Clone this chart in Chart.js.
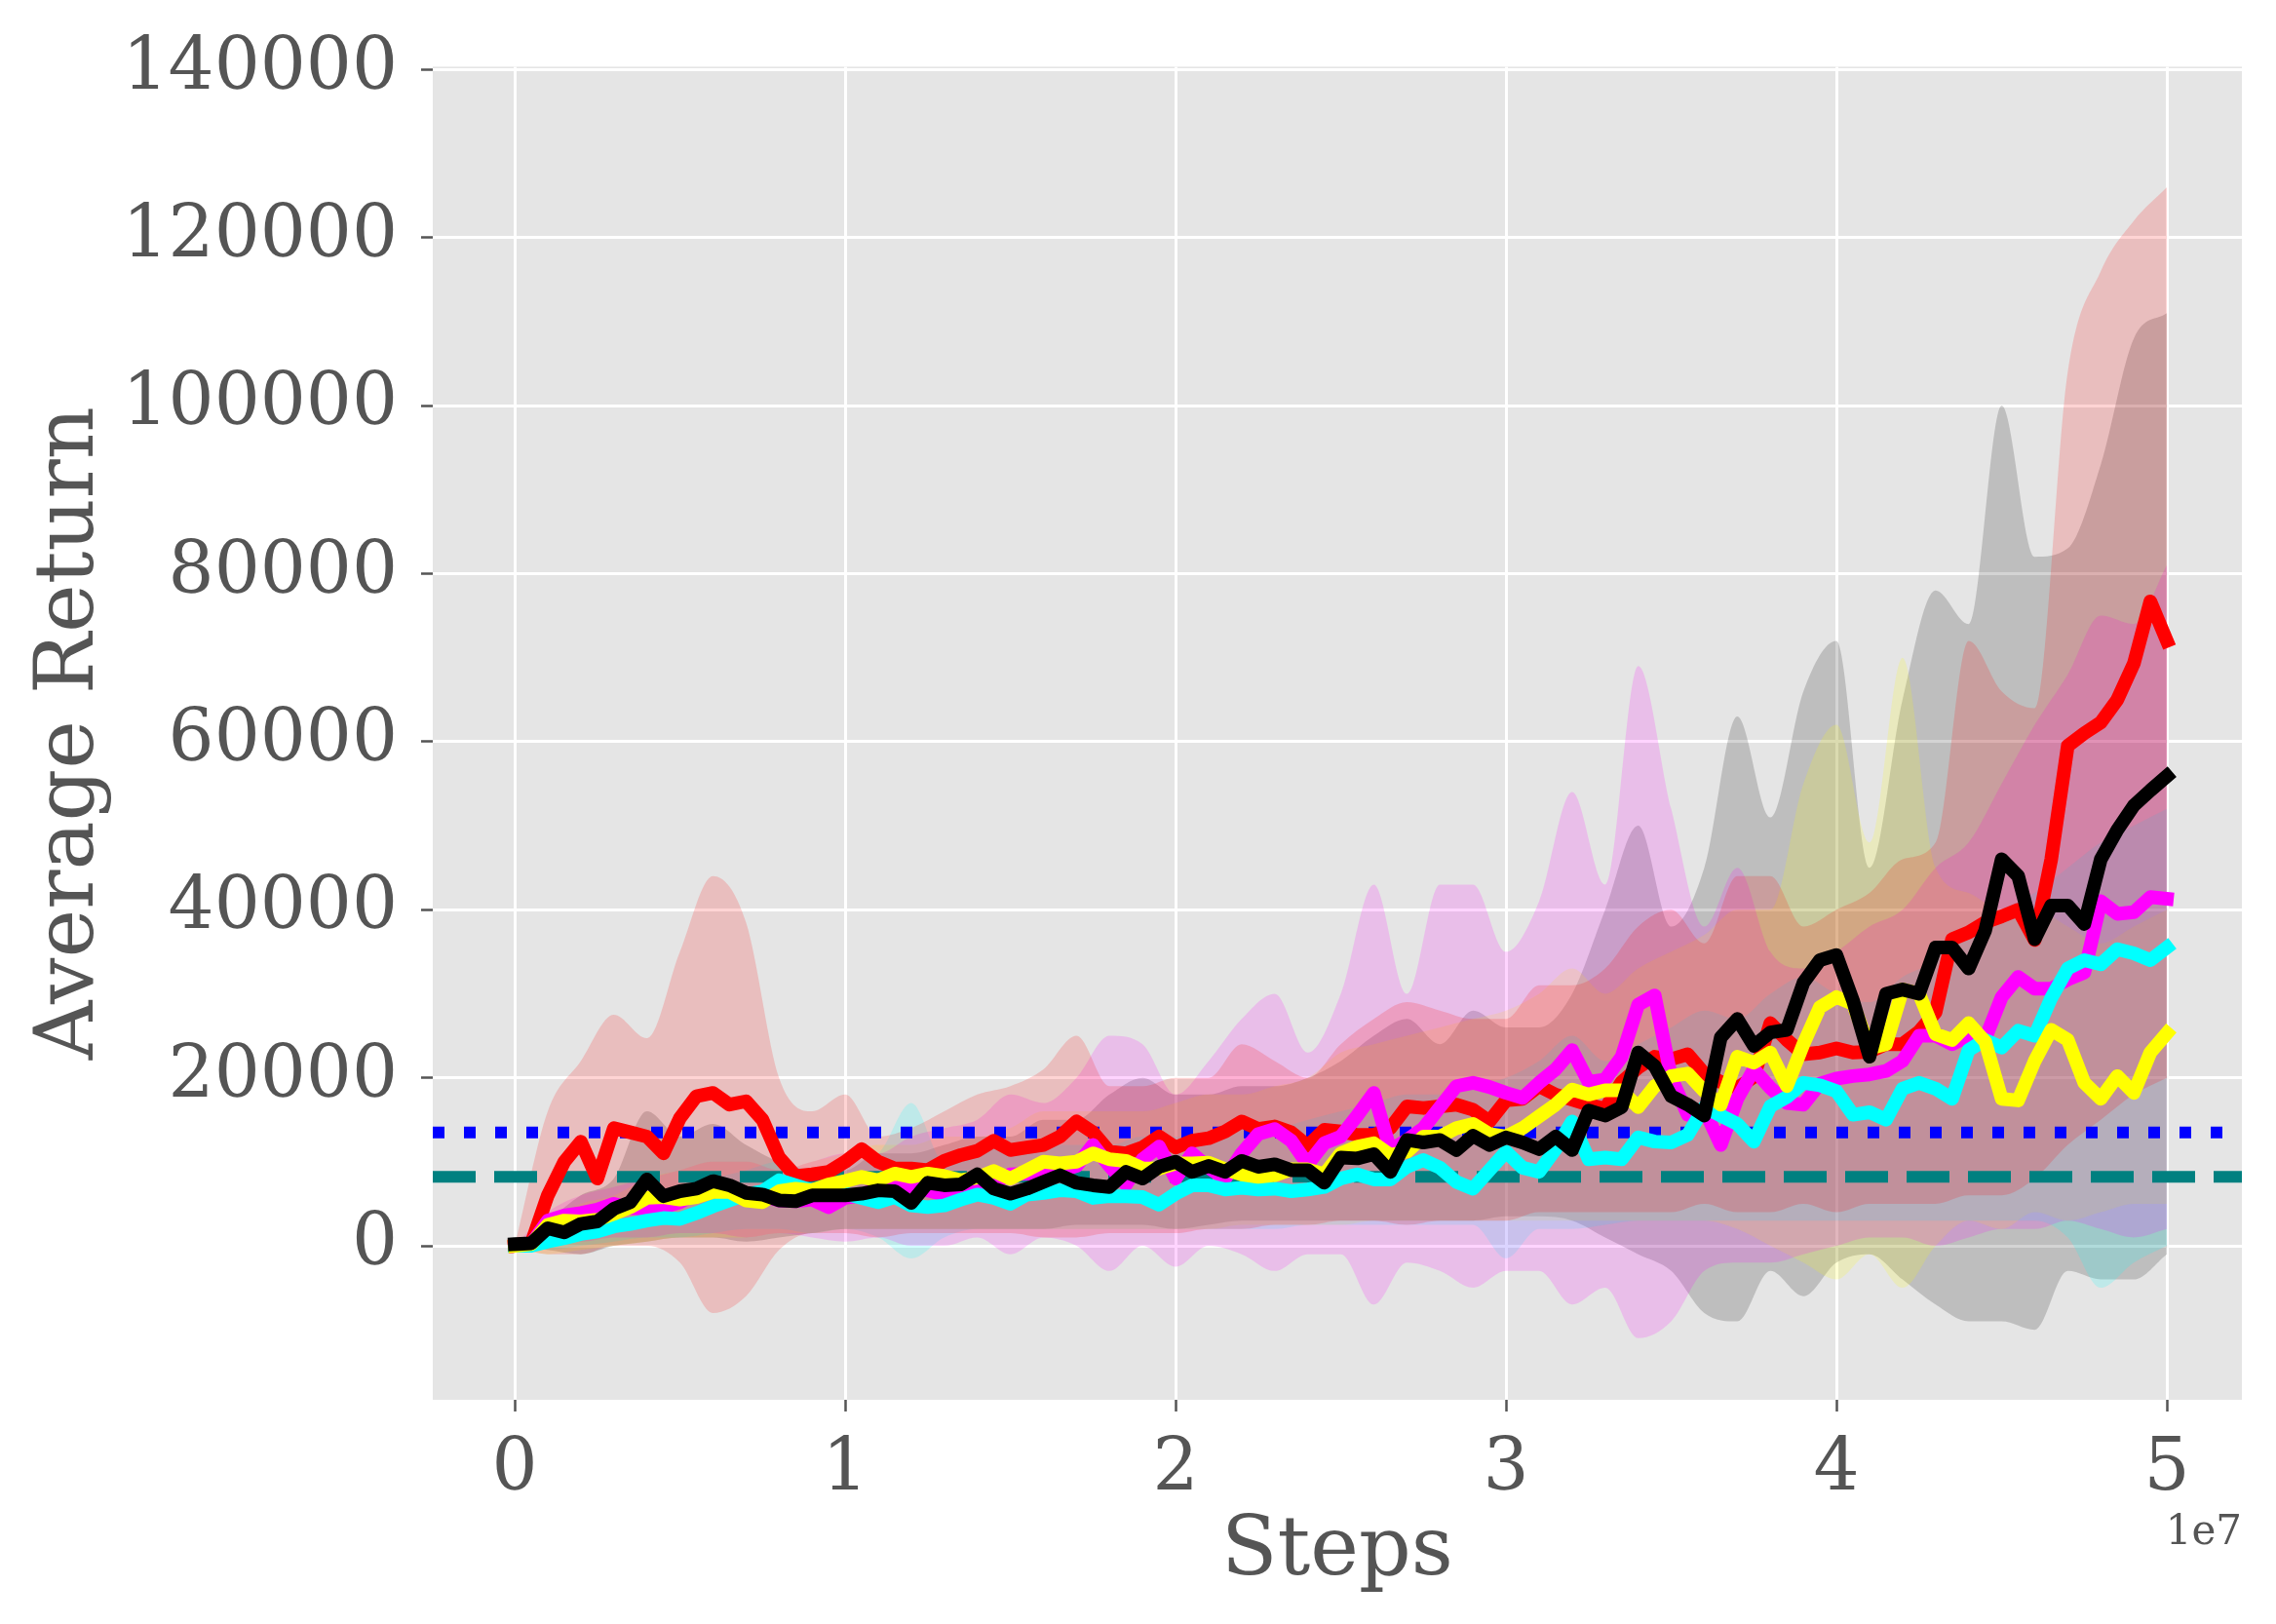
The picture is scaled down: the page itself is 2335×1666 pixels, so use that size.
<!DOCTYPE html>
<html lang="en">
<head>
<meta charset="UTF-8">
<title>Average Return vs Steps</title>
<script src="https://cdn.jsdelivr.net/npm/chart.js"></script>
<style>
  html, body { margin: 0; padding: 0; background: #ffffff; }
  #chart { display: block; }
</style>
</head>
<body>
<canvas id="chart" width="2335" height="1666"></canvas>
<script>
// steps are in millions, returns in thousands
const lineSteps = Array.from({ length: 101 }, (_, i) => i * 0.5);
const bandSteps = Array.from({ length: 51 }, (_, i) => i);

const xTickValues = [0, 1e7, 2e7, 3e7, 4e7, 5e7];
const yTickValues = [0, 20000, 40000, 60000, 80000, 100000, 120000, 140000];

const dottedLevel = 13.48;   // blue dotted reference
const dashedLevel = 8.2;     // teal dashed reference

const redMean = [0, 0.3, 6, 10, 12.4, 8, 14, 13.5, 13, 11,
  15.2, 17.8, 18.2, 16.8, 17.2, 15, 10.5, 8.3, 8.5, 8.8,
  10, 11.5, 10, 9.2, 9.2, 9, 10.1, 10.8, 11.3, 12.5,
  11.4, 11.7, 12, 13, 14.8, 13.5, 11.2, 11, 11.7, 13,
  11.7, 12.5, 12.8, 13.6, 14.8, 13.9, 14.2, 13.5, 11.9, 13.8,
  13.6, 13.2, 13.2, 14, 16.6, 16.4, 16.6, 16.8, 16.2, 14.8,
  17.3, 17.5, 19, 18, 17.4, 16.8, 16.3, 19.5, 21.2, 22.5,
  22.2, 22.8, 20.5, 19.5, 18.8, 20.1, 26.5, 24.5, 22.8, 23,
  23.5, 23, 23.1, 24, 24, 25.5, 27.8, 36.5, 37.3, 38.5,
  39.2, 40, 36.4, 46, 59.5, 61, 62.3, 65, 69.3, 76.7, 72];

const magentaMean = [0, 0.2, 3, 3.6, 3.9, 4.3, 5, 4.5, 4.4, 4.6,
  5.2, 6.2, 6.4, 5.8, 6, 6, 5.4, 5.3, 5.5, 4.6,
  5.7, 6, 7, 7.4, 7, 6.6, 6.1, 6.5, 7.3, 7.5,
  8.5, 8.6, 8.4, 8.9, 9.5, 12, 9.5, 7.3, 10.3, 11.8,
  8, 11, 9.3, 8, 11, 13.3, 13.9, 12.5, 9.7, 12.2,
  13, 15.5, 18.2, 11.4, 12.6, 14, 16.5, 19, 19.4, 18.9,
  18.2, 17.6, 19.4, 21, 23.3, 19.5, 19.8, 22.5, 28.7, 29.8,
  20, 15.6, 16.2, 12, 17.5, 21, 18.8, 17, 16.8, 19.3,
  19.9, 20.2, 20.4, 20.8, 22, 25, 25, 24, 25, 24.6,
  29.6, 32, 30.6, 30.6, 31.7, 32.5, 41, 39.5, 39.7, 41.5, 41.3];

const cyanMean = [0, 0, 0.5, 0.9, 1.4, 1.7, 2.3, 2.6, 3, 3.3,
  3.2, 3.9, 4.7, 5.4, 6.1, 6.5, 7.8, 7.2, 6.6, 6.3,
  6.2, 5.7, 5.2, 5.8, 4.8, 4.6, 4.8, 5.5, 6.1, 5.7,
  5, 6.1, 6.3, 6.6, 6.5, 5.7, 5.9, 5.9, 5.8, 4.9,
  6.2, 7.2, 7.2, 6.7, 6.9, 6.7, 6.8, 6.5, 6.7, 7,
  8, 8.5, 7.9, 7.9, 9.4, 10.2, 9.3, 7.6, 6.8, 9,
  11.2, 9.3, 8.8, 11.5, 14.8, 10.3, 10.5, 10.3, 12.9, 12.4,
  12.3, 13.2, 16.5, 15.5, 14.5, 12.4, 16.6, 17.7, 19.4, 19.1,
  18.4, 15.6, 15.9, 15, 18.7, 19.4, 18.7, 17.5, 23.3, 24.5,
  23.6, 25.6, 25, 29.5, 33, 34, 33.5, 35.3, 34.8, 34, 35.5];

const yellowMean = [0, 0.2, 2.5, 3, 2.9, 3.1, 3.8, 4.6, 5.7, 5.8,
  5.5, 5.8, 6.4, 6.4, 5.4, 5.2, 6.5, 6.8, 6.6, 7.3,
  7.7, 8.2, 7.8, 8.6, 8.2, 8.6, 8.3, 7.8, 8.1, 8.9,
  8, 9, 10, 9.8, 10, 11, 10.3, 10.1, 9.2, 9.2,
  9.8, 9.8, 9.9, 9.1, 8.5, 8.2, 8.4, 9.1, 9.1, 8.5,
  11, 11.8, 12.2, 10.8, 11.2, 13, 13, 14, 14.5, 13.3,
  13, 14, 15.4, 16.8, 18.6, 18, 18.5, 18.5, 16.5, 19,
  20.2, 20.5, 18.4, 16.8, 22.5, 21.8, 23, 19, 24, 28.4,
  29.6, 28.8, 23.5, 24, 30.5, 30, 25.2, 24.5, 26.5, 24.3,
  17.5, 17.3, 22, 25.7, 24.5, 19.4, 17.5, 20.2, 18.2, 23, 25.3];

const blackMean = [0.2, 0.3, 2.1, 1.6, 2.6, 2.9, 4.4, 5.2, 7.9, 5.9,
  6.5, 6.8, 7.7, 7.2, 6.3, 6.1, 5.4, 5.3, 6, 6,
  6, 6.2, 6.6, 6.5, 5.1, 7.5, 7.2, 7.3, 8.5, 6.8,
  6.2, 6.8, 7.6, 8.4, 7.5, 7.2, 7, 8.8, 8, 9.4,
  10, 8.8, 9.5, 8.8, 10.1, 9.4, 9.7, 9, 9, 7.5,
  10.5, 10.4, 10.9, 8.8, 12.6, 12.3, 12.6, 11.4, 13.1, 12,
  12.9, 12.3, 11.5, 13, 11.4, 16.1, 15.5, 16.5, 23, 21.4,
  17.8, 16.8, 15.5, 24.8, 27, 23.8, 25.4, 25.7, 31.3, 34,
  34.6, 29.2, 22.5, 30, 30.5, 30, 35.5, 35.5, 33, 37.5,
  46, 44, 36.5, 40.5, 40.5, 38.3, 46, 49.5, 52.4, 54.2, 55.9];

const redUpper = [0, 16, 22, 27.5, 24.7, 35, 44, 38.5, 20, 16,
  18, 13, 14, 16, 18, 19, 21, 25, 19, 19,
  20, 20, 24, 22, 20, 24, 27, 29, 28, 27,
  27, 31, 31, 33, 38, 40, 36, 44, 44, 38,
  40, 42, 46, 48, 72, 66, 64, 104, 116, 122, 126];
const redLower = [0, -1, -1, 0, 0, -2, -8, -6, -0.5, 1.5,
  1.5, 1, 1.5, 1.5, 1.5, 1.5, 1, 1, 1.5, 1.5,
  1.5, 2, 2, 2.5, 2.5, 3, 3, 2.5, 3, 3,
  3, 4, 4, 4, 4, 4, 5, 4, 4, 5,
  4, 5, 5, 5, 6, 6, 8, 12, 15, 18, 20];

const grayUpper = [0, 3, 6, 8, 16, 13, 14.5, 12, 10, 9,
  9, 11, 11, 12, 13, 13, 15, 15, 18, 20,
  18, 18, 19, 19, 20, 22, 25, 27, 24, 28,
  26, 26, 30, 40, 50, 38, 45, 63, 51, 66,
  72, 45, 65, 78, 74, 100, 82, 83, 93, 108, 111];
const grayLower = [0, -0.5, -1, 0, 0.5, 1, 1, 0.5, 1, 1.5,
  2, 2, 2, 2, 2, 2, 2, 2.5, 2.5, 2.5,
  2, 2.5, 3, 3, 3, 3, 3, 3, 3, 3,
  3.5, 3.5, 3, 1, -1, -3, -8, -9, -3, -6,
  -2, -1, -4, -7, -9, -9, -10, -3, -4, -4, -1];

const magentaUpper = [0, 4, 6, 7, 8, 9, 10, 10, 9, 10,
  11, 11, 13, 14, 15, 18, 17, 20, 25, 24,
  18, 22, 27, 30, 23, 30, 43, 30, 43, 43,
  35, 41, 54, 43, 69, 52, 38, 45, 35, 33,
  35, 38, 40, 45, 48, 55, 62, 68, 75, 74, 81];
const magentaLower = [0, 0.5, 0.5, 1, 1, 1.5, 1.5, 1, 1.5, 1,
  0.5, 1, 0, 0, 1, -1, 1, 0, -3, 0,
  -2.5, 0, -1, -3, -1, -1, -7, -2, -3, -5,
  -3, -3, -7, -5, -11, -9, -3, -2, -2, -1,
  0, 1, 1, 0, 1, 2, 2, 3, 2, 1, 2];

const cyanUpper = [0, 2, 4, 5, 6, 7, 8, 9, 10, 9,
  10, 11, 17, 10, 11, 12, 12, 12, 12, 13,
  13, 13, 14, 14, 15, 16, 17, 18, 18, 19,
  20, 22, 25, 22, 24, 26, 28, 27, 30, 32,
  30, 29, 32, 34, 38, 40, 42, 45, 48, 50, 52];
const cyanLower = [0, -0.5, 0, 0.5, 1, 1, 1.5, 2, 2, 1.5,
  2, 1, -1.5, 1, 2, 2, 2, 2, 2, 2,
  2, 2, 2, 2, 2.5, 2.5, 2.5, 2.5, 2.5, 2.5,
  -1.5, 2, 2, 2.5, 3, 3, 3, 3, 3, 3,
  3, 3, 3, 3, 3, 3, 3, 1, -5, -2, 0];

const yellowUpper = [0, 3, 5, 6, 8, 9, 10, 10, 9, 10,
  11, 12, 12, 13, 13, 14, 16, 16, 16, 16,
  17, 18, 18, 19, 20, 23, 24, 25, 26, 27,
  28, 30, 33, 30, 33, 35, 37, 40, 40, 55,
  62, 48, 70, 45, 42, 40, 40, 38, 36, 38, 40];
const yellowLower = [0, -1, -0.5, 0, 0.5, 1, 1, 1, 1.5, 1.5,
  2, 2, 2, 2, 2, 2, 2, 2, 2, 2,
  2, 2, 2.5, 2.5, 2.5, 2.5, 3, 3, 3, 3,
  3, 3, 3, 3, 3, 3, 3, 2, 0, -2,
  -4, -1, -5, 0, 3, 2, 4, 3, 4, 5, 5];

const X_MIN = -0.248e7, X_MAX = 5.227e7;
const Y_MIN = -18330, Y_MAX = 140340;
const FONT = '"DejaVu Serif", "Liberation Serif", serif';
const TEXT = '#555555';

function pts(steps, vals) {
  return vals.map((v, i) => ({ x: steps[i] * 1e6, y: v * 1000 }));
}

const series = [
  { label: 'red', color: '#ff0000', fill: 'rgba(255,0,0,0.17)', mean: redMean, upper: redUpper, lower: redLower, order: 5 },
  { label: 'magenta', color: '#ff00ff', fill: 'rgba(255,0,255,0.17)', mean: magentaMean, upper: magentaUpper, lower: magentaLower, order: 4 },
  { label: 'cyan', color: '#00ffff', fill: 'rgba(0,255,255,0.17)', mean: cyanMean, upper: cyanUpper, lower: cyanLower, order: 3 },
  { label: 'yellow', color: '#ffff00', fill: 'rgba(255,255,0,0.17)', mean: yellowMean, upper: yellowUpper, lower: yellowLower, order: 2 },
  { label: 'black', color: '#000000', fill: 'rgba(0,0,0,0.17)', mean: blackMean, upper: grayUpper, lower: grayLower, order: 1 }
];

const datasets = [];
// shaded bands first (smoothed edges)
series.forEach((s, k) => {
  datasets.push({
    label: s.label + ' upper', data: pts(bandSteps, s.upper),
    borderWidth: 0, borderColor: 'transparent', pointRadius: 0,
    cubicInterpolationMode: 'monotone',
    backgroundColor: s.fill, fill: '+1', order: 100 + k
  });
  datasets.push({
    label: s.label + ' lower', data: pts(bandSteps, s.lower),
    borderWidth: 0, borderColor: 'transparent', pointRadius: 0,
    cubicInterpolationMode: 'monotone',
    fill: false, order: 100 + k
  });
});
// reference lines
datasets.push({
  label: 'dotted', data: [{ x: X_MIN, y: dottedLevel * 1000 }, { x: X_MAX, y: dottedLevel * 1000 }],
  borderColor: '#0000ff', borderWidth: 12, borderDash: [12, 20], borderCapStyle: 'butt',
  pointRadius: 0, fill: false, order: 50
});
datasets.push({
  label: 'dashed', data: [{ x: X_MIN, y: dashedLevel * 1000 }, { x: X_MAX, y: dashedLevel * 1000 }],
  borderColor: '#008080', borderWidth: 12, borderDash: [44, 19], borderCapStyle: 'butt',
  pointRadius: 0, fill: false, order: 50
});
// mean curves
series.forEach(s => {
  datasets.push({
    label: s.label, data: pts(lineSteps, s.mean),
    borderColor: s.color, borderWidth: 14, borderJoinStyle: 'round', borderCapStyle: 'square',
    pointRadius: 0, fill: false, tension: 0, order: s.order
  });
});

const plotBackground = {
  id: 'plotBackground',
  beforeDraw(chart) {
    const { ctx, chartArea: a } = chart;
    ctx.save();
    ctx.fillStyle = '#E5E5E5';
    ctx.fillRect(a.left, a.top, a.right - a.left, a.bottom - a.top);
    ctx.restore();
  }
};

const offsetLabel = {
  id: 'offsetLabel',
  afterDraw(chart) {
    const { ctx, chartArea: a } = chart;
    ctx.save();
    ctx.font = '42px ' + FONT;
    ctx.fillStyle = TEXT;
    ctx.textAlign = 'right';
    ctx.textBaseline = 'alphabetic';
    ctx.fillText('1e7', a.right, 1584);
    ctx.restore();
  }
};

new Chart(document.getElementById('chart').getContext('2d'), {
  type: 'line',
  data: { datasets },
  plugins: [plotBackground, offsetLabel],
  options: {
    responsive: false,
    animation: false,
    devicePixelRatio: 1,
    layout: { padding: { left: 0, top: 45, right: 35, bottom: 0 } },
    plugins: { legend: { display: false }, tooltip: { enabled: false } },
    scales: {
      x: {
        type: 'linear', min: X_MIN, max: X_MAX,
        afterFit(scale) { scale.height = 230; },
        afterBuildTicks(scale) { scale.ticks = xTickValues.map(v => ({ value: v })); },
        ticks: {
          font: { family: FONT, size: 74 }, color: TEXT, padding: 16,
          maxRotation: 0, autoSkip: false,
          callback: v => String(v / 1e7)
        },
        grid: { color: '#ffffff', lineWidth: 3, tickColor: TEXT, tickLength: 12, tickWidth: 2.5 },
        border: { display: false },
        title: {
          display: true, text: 'Steps', color: TEXT,
          font: { family: FONT, size: 84 }, padding: { top: 0, bottom: 22 }
        }
      },
      y: {
        type: 'linear', min: Y_MIN, max: Y_MAX,
        afterFit(scale) { scale.width = 444; },
        afterBuildTicks(scale) { scale.ticks = yTickValues.map(v => ({ value: v })); },
        ticks: {
          font: { family: FONT, size: 74 }, color: TEXT, padding: 24,
          autoSkip: false,
          callback: v => String(v)
        },
        grid: { color: '#ffffff', lineWidth: 3, tickColor: TEXT, tickLength: 12, tickWidth: 2.5 },
        border: { display: false },
        title: {
          display: true, text: 'Average Return', color: TEXT,
          font: { family: FONT, size: 84 }, padding: { top: 23, bottom: 0 }
        }
      }
    }
  }
});
</script>
</body>
</html>
